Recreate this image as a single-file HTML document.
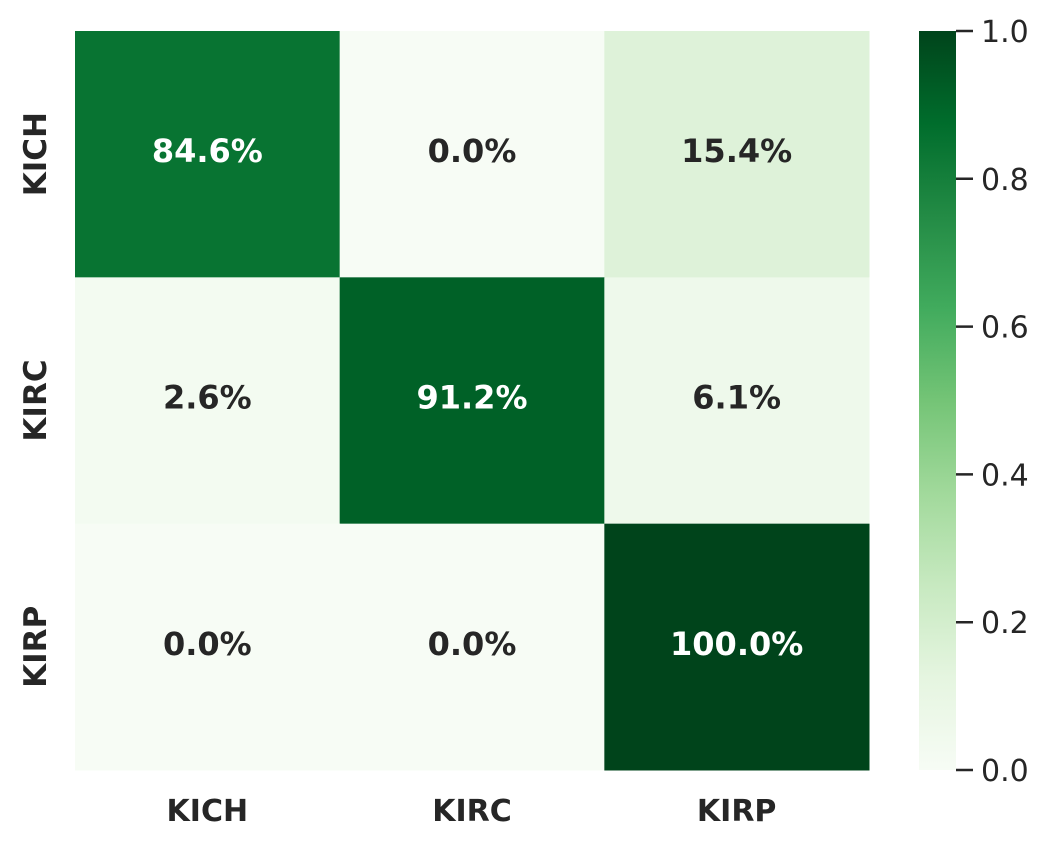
<!DOCTYPE html>
<html><head><meta charset="utf-8"><style>
html,body{margin:0;padding:0;background:#fff;}
svg{display:block;font-family:"DejaVu Sans","Liberation Sans",sans-serif;}
</style></head><body>
<svg id="chart" width="1050" height="846" viewBox="0 0 1050 846">
<defs>
<linearGradient id="cbg" x1="0" y1="1" x2="0" y2="0">
<stop offset="0" stop-color="#f7fcf5"/><stop offset="0.125" stop-color="#e5f5e0"/>
<stop offset="0.25" stop-color="#c7e9c0"/><stop offset="0.375" stop-color="#a1d99b"/>
<stop offset="0.5" stop-color="#74c476"/><stop offset="0.625" stop-color="#41ab5d"/>
<stop offset="0.75" stop-color="#238b45"/><stop offset="0.875" stop-color="#006d2c"/>
<stop offset="1" stop-color="#00441b"/>
</linearGradient>
</defs>
</svg>
<script>
const rowLabels = ["KICH","KIRC","KIRP"];
const colLabels = ["KICH","KIRC","KIRP"];
const values = [[0.846,0.0,0.154],[0.026,0.912,0.061],[0.0,0.0,1.0]];
const cbTicks = [0.0,0.2,0.4,0.6,0.8,1.0];

const NS="http://www.w3.org/2000/svg";
const svg=document.getElementById('chart');
const stops=["#f7fcf5","#e5f5e0","#c7e9c0","#a1d99b","#74c476","#41ab5d","#238b45","#006d2c","#00441b"];
function hex(h){return [1,3,5].map(i=>parseInt(h.substr(i,2),16));}
function cmap(v){v=Math.max(0,Math.min(1,v));const p=v*(stops.length-1);const i=Math.min(Math.floor(p),stops.length-2);const t=p-i;const a=hex(stops[i]),b=hex(stops[i+1]);return `rgb(${a.map((x,k)=>Math.round(x+(b[k]-x)*t)).join(',')})`;}
function mk(tag,attrs,parent){const e=document.createElementNS(NS,tag);for(const k in attrs)e.setAttribute(k,attrs[k]);(parent||svg).appendChild(e);return e;}
const X0=75,X1=869,Y0=31,Y1=770;
const cw=(X1-X0)/colLabels.length, ch=(Y1-Y0)/rowLabels.length;
const xPos=j=>X0+j*cw, yPos=i=>Y0+i*ch;
for(let i=0;i<rowLabels.length;i++){for(let j=0;j<colLabels.length;j++){
  const v=values[i][j];
  const r=mk('rect',{x:xPos(j),y:yPos(i),width:cw+0.5,height:ch+0.5,fill:cmap(v)});
  
  
  const t=mk('text',{x:xPos(j)+cw/2,y:yPos(i)+ch/2+8,'text-anchor':'middle','font-size':'32','font-weight':'bold',fill:v>0.5?'#ffffff':'#262626'});
  t.textContent=(v*100).toFixed(1)+'%';
  
  
}}
rowLabels.forEach((l,i)=>{const cy=yPos(i)+ch/2;
  const t=mk('text',{x:0,y:0,transform:`translate(46,${cy}) rotate(-90)`,'text-anchor':'middle','font-size':'31','font-weight':'bold',fill:'#262626'});
  t.textContent=l;
  
  });
colLabels.forEach((l,j)=>{
  const t=mk('text',{x:xPos(j)+cw/2,y:821,'text-anchor':'middle','font-size':'30','font-weight':'bold',fill:'#262626'});
  t.textContent=l;
  
  });
const CX0=919,CX1=956;
const cb=mk('rect',{x:CX0,y:Y0,width:CX1-CX0,height:Y1-Y0,fill:'url(#cbg)'});


const cbY=v=>Y1-v*(Y1-Y0);
cbTicks.forEach(v=>{const y=cbY(v);
  const l=mk('line',{x1:CX1,x2:CX1+17,y1:y,y2:y,stroke:'#262626','stroke-width':2.5});
  
  
  const t=mk('text',{x:981,y:y+11,'font-size':'30',fill:'#262626'});
  t.textContent=v.toFixed(1);
  
  });
</script>
</body></html>
